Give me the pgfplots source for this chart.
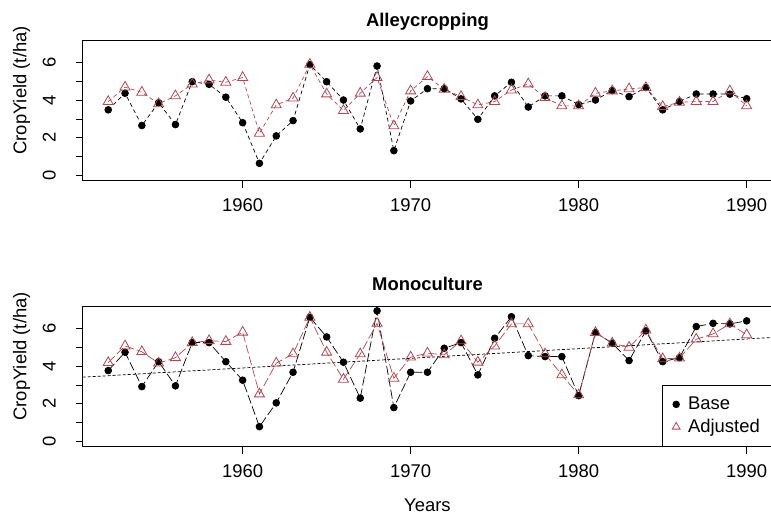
\documentclass[border=0pt]{standalone}
\usepackage{pgfplots}
\pgfplotsset{compat=1.18}
\usepackage{pgfplotstable}
\usepackage{fontspec}
\setmainfont{Liberation Sans}
\definecolor{adjc}{RGB}{178,70,82}
\newcommand{\fs}{\fontsize{18.5}{21}\selectfont}

\pgfplotstableread{
year base adj
1952 3.48 3.92
1953 4.36 4.68
1954 2.65 4.41
1955 3.86 3.80
1956 2.70 4.22
1957 4.97 4.84
1958 4.83 5.06
1959 4.15 4.94
1960 2.80 5.19
1961 0.65 2.24
1962 2.10 3.74
1963 2.91 4.10
1964 5.87 5.89
1965 4.97 4.32
1966 4.00 3.44
1967 2.47 4.36
1968 5.80 5.19
1969 1.32 2.63
1970 3.95 4.48
1971 4.60 5.24
1972 4.60 4.57
1973 4.06 4.18
1974 2.98 3.74
1975 4.22 3.92
1976 4.94 4.53
1977 3.63 4.85
1978 4.22 4.13
1979 4.22 3.69
1980 3.76 3.69
1981 4.00 4.36
1982 4.50 4.48
1983 4.18 4.59
1984 4.66 4.66
1985 3.48 3.65
1986 3.92 3.88
1987 4.32 3.92
1988 4.32 3.92
1989 4.31 4.48
1990 4.07 3.69
}\alley

\pgfplotstableread{
year base adj
1952 3.76 4.18
1953 4.73 5.06
1954 2.91 4.76
1955 4.23 4.15
1956 2.95 4.44
1957 5.24 5.24
1958 5.24 5.34
1959 4.23 5.30
1960 3.25 5.79
1961 0.79 2.52
1962 2.05 4.15
1963 3.67 4.64
1964 6.58 6.58
1965 5.54 4.73
1966 4.20 3.30
1967 2.30 4.64
1968 6.92 6.26
1969 1.80 3.35
1970 3.67 4.47
1971 3.67 4.68
1972 4.94 4.59
1973 5.24 5.33
1974 3.53 4.20
1975 5.47 5.06
1976 6.61 6.23
1977 4.55 6.23
1978 4.50 4.64
1979 4.50 3.53
1980 2.43 2.47
1981 5.77 5.77
1982 5.21 5.21
1983 4.29 4.99
1984 5.86 5.90
1985 4.23 4.38
1986 4.44 4.42
1987 6.09 5.42
1988 6.26 5.70
1989 6.23 6.23
1990 6.39 5.65
}\mono

\pgfplotsset{
  panel/.style={
    scale only axis,
    width=689.5bp, height=140bp,
    anchor=south west,
    xmin=1950.48, xmax=1991.52,
    ymin=-0.27, ymax=7.14,
    xtick={1960,1970,1980,1990},
    ytick={0,1,2,3,4,5,6},
    yticklabels={0,,2,,4,,6},
    axis line style={black, line width=0.8bp},
    tick style={black, line width=0.8bp},
    tick align=outside,
    major tick length=7bp,
    xtick pos=bottom, ytick pos=left,
    /pgf/number format/assume math mode=true,
    /pgf/number format/1000 sep={},
    tick label style={font=\fs},
    xticklabel style={anchor=north, inner sep=0pt, yshift=-11bp},
    yticklabel style={rotate=90, anchor=base, inner sep=0pt, yshift=20bp},
    every axis y label/.style={at={(rel axis cs:0,0.645)}, rotate=90, anchor=center, yshift=61bp, font=\fs},
    ylabel={CropYield (t/ha)},
    title style={at={(0.5,1)}, anchor=base, inner sep=0pt, font=\fs\bfseries},
  },
}

\begin{document}
\begin{tikzpicture}
\useasboundingbox (0,0) rectangle (771bp,515bp);
\begin{axis}[panel, at={(82.7bp,334.3bp)}, title={Alleycropping}, title style={yshift=8bp}]
\addplot[black, line width=0.7bp, dash pattern=on 4bp off 3bp, mark=*, mark size=3.4bp, mark options={solid, fill=black}] table[x=year,y=base]{\alley};
\addplot[adjc, line width=0.7bp, dash pattern=on 4bp off 3bp, mark=triangle, mark size=5.8bp, mark options={solid, line width=0.8bp}] table[x=year,y=adj]{\alley};
\end{axis}
\begin{axis}[panel, at={(82.7bp,68.3bp)}, title={Monoculture}, title style={yshift=10bp},
  xlabel={Years},
  every axis x label/.style={at={(rel axis cs:0.5,0)}, anchor=base, yshift=-65bp, font=\fs},
  legend style={at={(rel axis cs:1,0)}, anchor=south east, draw=black, line width=0.8bp, fill=white, font=\fs, inner xsep=10bp, inner ysep=10bp, row sep=4bp, /tikz/every odd column/.append style={column sep=6bp}},
  legend cell align=left]
\addplot[black, line width=0.7bp, dash pattern=on 3bp off 2bp, forget plot] coordinates {(1950.48,3.41) (1991.52,5.51)};
\addplot[black, line width=0.7bp, dash pattern=on 9bp off 3bp, mark=*, mark size=3.4bp, mark options={solid, fill=black}, forget plot] table[x=year,y=base]{\mono};
\addplot[adjc, line width=0.7bp, dash pattern=on 9bp off 3bp, mark=triangle, mark size=5.8bp, mark options={solid, line width=0.8bp}, forget plot] table[x=year,y=adj]{\mono};
\addlegendimage{only marks, mark=*, black, mark size=3.3bp}
\addlegendentry{Base}
\addlegendimage{only marks, mark=triangle, adjc, mark size=4.5bp}
\addlegendentry{Adjusted}
\end{axis}
\end{tikzpicture}
\end{document}
